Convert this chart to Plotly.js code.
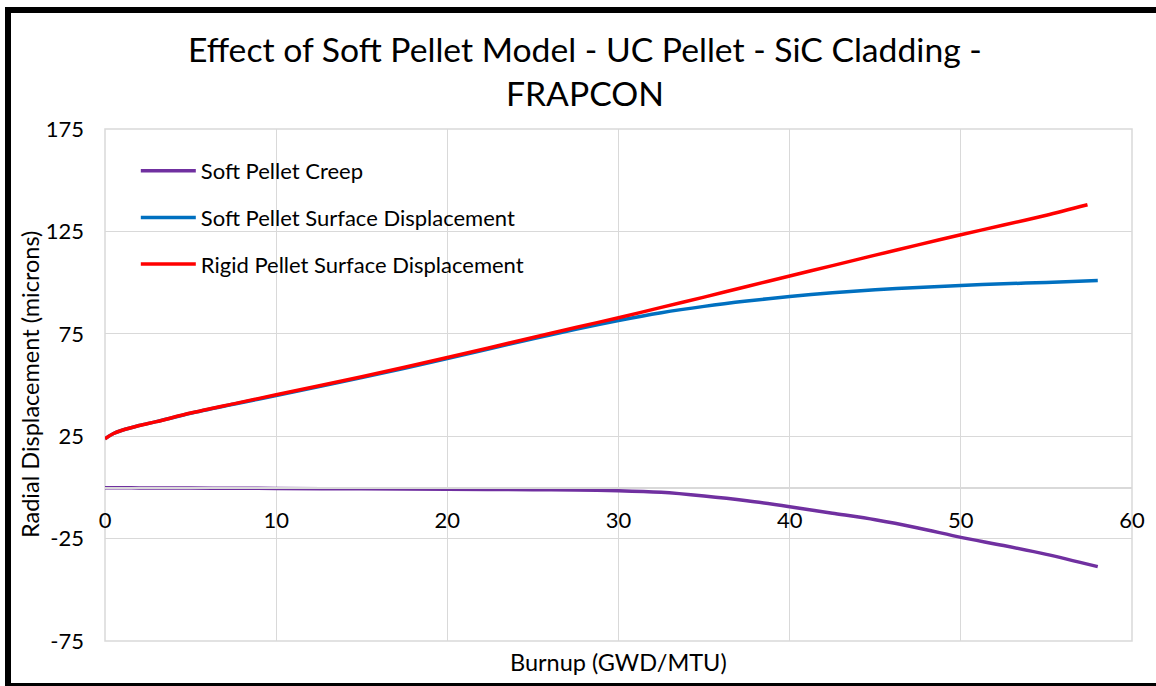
<!DOCTYPE html>
<html>
<head>
<meta charset="utf-8">
<script src="https://cdn.plot.ly/plotly-3.0.1.min.js"></script>
<style>
  html, body { margin: 0; padding: 0; background: #fff; overflow: hidden; }
  #wrap { position: relative; width: 1156px; height: 686px; overflow: hidden; }
  #chart { position: absolute; left: 0; top: 0; width: 1156px; height: 686px; }
  #frame { position: absolute; left: 5px; top: 7px; width: 1200px; height: 670px;
           border: 6px solid #000; pointer-events: none; }
</style>
</head>
<body>
<div id="wrap">
  <div id="chart"></div>
  <div id="frame"></div>
</div>
<script>
// Burnup (GWD/MTU)
const burnup = [0, 0.5, 1, 2, 3, 5, 7.5, 10, 15, 20, 25, 27.5, 30, 32.5, 35, 37.5, 40, 42.5, 45, 47.5, 50, 52.5, 55, 58];
const burnupRigid = [0, 0.5, 1, 2, 3, 5, 7.5, 10, 15, 20, 25, 27.5, 30, 32.5, 35, 37.5, 40, 42.5, 45, 47.5, 50, 52.5, 55, 57.4];

// Radial displacement (microns)
const softCreep = [-0.2, -0.2, -0.2, -0.25, -0.3, -0.35, -0.4, -0.5, -0.7, -0.9, -1.1, -1.3, -1.6, -2.4, -4.2, -6.5, -9.4, -12.6, -15.8, -19.8, -24.4, -28.4, -32.7, -38.7];
const softSurface = [23.7, 26.3, 27.9, 30.2, 32.1, 36.2, 40.6, 44.9, 53.6, 62.9, 72.6, 77.2, 81.5, 85.3, 88.4, 91.0, 93.2, 95.0, 96.5, 97.6, 98.6, 99.4, 100.1, 101.0];
const rigidSurface = [23.7, 26.3, 27.9, 30.2, 32.1, 36.3, 40.8, 45.2, 54.0, 63.4, 73.2, 78.1, 82.8, 87.9, 92.9, 98.1, 103.2, 108.3, 113.4, 118.4, 123.4, 128.1, 132.9, 138.0];

const seriesNames = ["Soft Pellet Creep", "Soft Pellet Surface Displacement", "Rigid Pellet Surface Displacement"];
const seriesColors = ["#7030A0", "#0070C0", "#FF0000"];

const xTickVals = [0, 10, 20, 30, 40, 50, 60];
const yTickVals = [-75, -25, 25, 75, 125, 175];

const titleText = "Effect of Soft Pellet Model - UC Pellet - SiC Cladding -<br>FRAPCON";
const xTitle = "Burnup (GWD/MTU)";
const yTitle = "Radial Displacement (microns)";

const FONT = "Lato, 'Open Sans', sans-serif";
const xs = [burnup, burnup, burnupRigid];
const ys = [softCreep, softSurface, rigidSurface];

const traces = ys.map((y, i) => ({
  x: xs[i], y: y, type: "scatter", mode: "lines",
  name: seriesNames[i], legendgroup: "g" + i,
  line: { color: seriesColors[i], width: 3.5, shape: "spline", smoothing: 0.8 },
  hoverinfo: "skip"
}));

const yMin = -75, yMax = 175;

const layout = {
  width: 1156, height: 686,
  margin: { l: 105, r: 24, t: 129, b: 45 },
  paper_bgcolor: "#fff", plot_bgcolor: "#fff",
  font: { family: FONT, color: "#000" },
  title: {
    text: titleText,
    font: { family: FONT, size: 33.7, color: "#000" },
    xref: "container", x: 0.506, xanchor: "center",
    yref: "container", y: 0.909, yanchor: "top"
  },
  xaxis: {
    range: [0, 60], tickvals: xTickVals, ticktext: xTickVals.map(String),
    showgrid: true, gridcolor: "#d9d9d9", gridwidth: 1,
    zeroline: false, showline: true, linecolor: "#d9d9d9", linewidth: 1.5,
    anchor: "free", position: (0 - yMin) / (yMax - yMin),
    ticks: "", ticklabelstandoff: 13,
    tickfont: { family: FONT, size: 22, color: "#000" },
    fixedrange: true
  },
  yaxis: {
    range: [yMin, yMax], tickvals: yTickVals, ticktext: yTickVals.map(String),
    showgrid: true, gridcolor: "#d9d9d9", gridwidth: 1,
    zeroline: false, showline: false,
    ticks: "", ticklabelstandoff: 20,
    tickfont: { family: FONT, size: 22, color: "#000" },
    fixedrange: true
  },
  shapes: [{
    type: "rect", xref: "x domain", yref: "y domain", x0: 0, x1: 1, y0: 0, y1: 1,
    line: { color: "#d9d9d9", width: 1.5 }, fillcolor: "rgba(0,0,0,0)", layer: "below"
  }],
  annotations: [
    { text: xTitle, xref: "paper", yref: "paper", x: 0.5, y: -0.041,
      xanchor: "center", yanchor: "middle", showarrow: false,
      font: { family: FONT, size: 23.5, color: "#000" } },
    { text: yTitle, xref: "paper", yref: "paper", x: -0.073, y: 0.5,
      xanchor: "center", yanchor: "middle", showarrow: false, textangle: -90,
      font: { family: FONT, size: 23.5, color: "#000" } }
  ],
  showlegend: true,
  legend: {
    x: 0.03, y: 0.959, xanchor: "left", yanchor: "top",
    bgcolor: "rgba(0,0,0,0)", borderwidth: 0,
    font: { family: FONT, size: 22, color: "#000" },
    traceorder: "grouped", tracegroupgap: 15, itemwidth: 55
  }
};

Plotly.newPlot("chart", traces, layout, { displayModeBar: false, staticPlot: true });
</script>
</body>
</html>
